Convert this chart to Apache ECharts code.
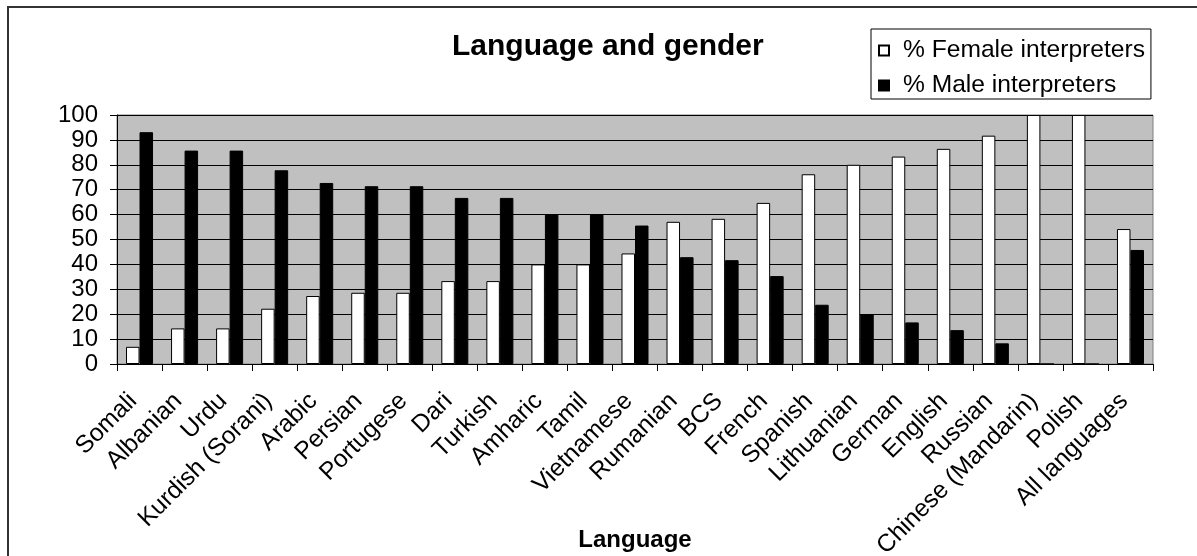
<!DOCTYPE html>
<html lang="en">
<head>
    <meta charset="utf-8">
    <title>Language and gender</title>
    <script src="https://cdn.jsdelivr.net/npm/echarts@6.0.0/dist/echarts.min.js"></script>
    <style>* {
        margin: 0;
        padding: 0;
    }
    #chart-container {
        width: 1197px;
        height: 556px;
        background: #fff;
    }</style>
</head>
<body>
    <div id="chart-container"></div>
    <script>
      var languages = ['Somali', 'Albanian', 'Urdu', 'Kurdish (Sorani)', 'Arabic', 'Persian', 'Portugese',
          'Dari', 'Turkish', 'Amharic', 'Tamil', 'Vietnamese', 'Rumanian', 'BCS', 'French', 'Spanish',
          'Lithuanian', 'German', 'English', 'Russian', 'Chinese (Mandarin)', 'Polish', 'All languages'];
      var femalePct = [6.9, 14.3, 14.3, 22.2, 27.3, 28.6, 28.6, 33.3, 33.3, 40, 40, 44.4, 57.1, 58.3,
          64.7, 76.2, 80, 83.3, 86.4, 91.7, 100, 100, 54.2];
      var malePct = [93.1, 85.7, 85.7, 77.8, 72.7, 71.4, 71.4, 66.7, 66.7, 60, 60, 55.6, 42.9, 41.7,
          35.3, 23.8, 20, 16.7, 13.6, 8.3, 0, 0, 45.8];
      var yTicks = [0, 10, 20, 30, 40, 50, 60, 70, 80, 90, 100];

      var font = 'Liberation Sans, Arial, sans-serif';
      var myChart = echarts.init(document.getElementById('chart-container'));

      myChart.setOption({
          animation: false,
          textStyle: { fontFamily: font, color: '#000' },
          title: {
              text: 'Language and gender',
              left: 447,
              top: 27,
              textStyle: { fontFamily: font, fontSize: 30, fontWeight: 'bold', color: '#000' }
          },
          legend: {
              orient: 'vertical',
              left: 871,
              top: 29,
              padding: [9, 6, 1, 7],
              itemGap: 10,
              itemWidth: 10,
              itemHeight: 10,
              icon: 'rect',
              borderColor: '#000',
              borderWidth: 1,
              textStyle: { fontFamily: font, fontSize: 24.6, color: '#000', padding: [0, 0, 0, 9] },
              data: ['% Female interpreters', '% Male interpreters']
          },
          graphic: [{
              type: 'rect',
              shape: { x: 8, y: 7, width: 1260, height: 620 },
              style: { fill: 'none', stroke: '#333', lineWidth: 2 },
              silent: true
          }],
          grid: {
              left: 117,
              right: 44,
              top: 115,
              bottom: 192,
              outerBoundsMode: 'none',
              show: true,
              backgroundColor: '#C0C0C0',
              borderColor: '#808080',
              borderWidth: 1
          },
          xAxis: {
              type: 'category',
              data: languages,
              name: 'Language',
              nameLocation: 'middle',
              nameGap: 164,
              nameMoveOverlap: false,
              nameTextStyle: { fontFamily: font, fontSize: 24, fontWeight: 'bold', color: '#000' },
              axisLine: { lineStyle: { color: '#000', width: 1 } },
              axisTick: { show: true, length: 7, lineStyle: { color: '#000' } },
              axisLabel: {
                  interval: 0,
                  rotate: 45,
                  margin: 27,
                  padding: [0, 9, 0, 0],
                  fontFamily: font,
                  fontSize: 24.6,
                  color: '#000'
              }
          },
          yAxis: {
              type: 'value',
              min: yTicks[0],
              max: yTicks[yTicks.length - 1],
              interval: yTicks[1] - yTicks[0],
              axisLine: { show: true, lineStyle: { color: '#000', width: 1 } },
              axisTick: { show: true, length: 7, lineStyle: { color: '#000' } },
              axisLabel: { margin: 19, fontFamily: font, fontSize: 24, color: '#000' },
              splitLine: { show: true, lineStyle: { color: '#000', width: 1 } }
          },
          series: [
              {
                  name: '% Female interpreters',
                  type: 'bar',
                  data: femalePct,
                  barGap: '0%',
                  barCategoryGap: '40%',
                  itemStyle: { color: '#fff', borderColor: '#000', borderWidth: 1 }
              },
              {
                  name: '% Male interpreters',
                  type: 'bar',
                  data: malePct,
                  barGap: '0%',
                  barCategoryGap: '40%',
                  itemStyle: { color: '#000', borderColor: '#000', borderWidth: 1 }
              }
          ]
      });
  </script>
</body>
</html>
